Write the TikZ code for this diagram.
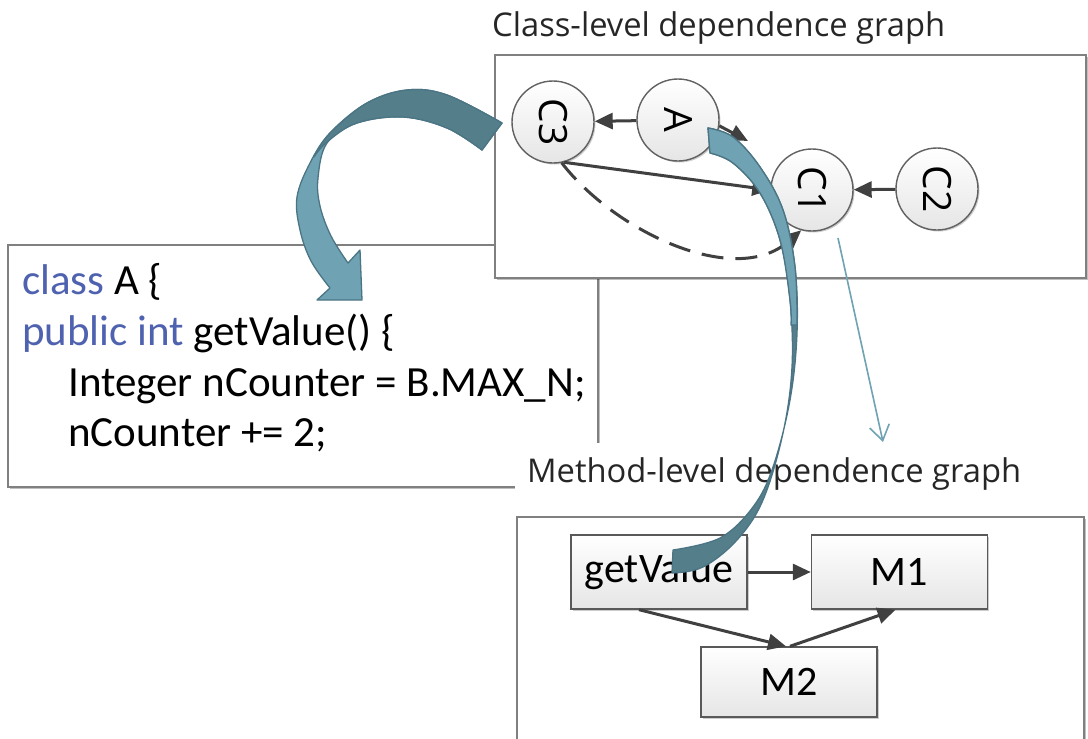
\documentclass[tikz,border=0pt]{standalone}
\usepackage{fontspec}
\setmainfont{Carlito}
\newfontfamily\titlefont{Open Sans}
\usetikzlibrary{arrows.meta,shadows,calc}

\definecolor{edgegray}{HTML}{404040}
\definecolor{framegray}{HTML}{808080}
\definecolor{kwblue}{RGB}{79,98,176}
\definecolor{bandlight}{HTML}{6FA2B2}
\definecolor{banddark}{HTML}{557E8B}
\definecolor{bandline}{HTML}{4B7584}

\tikzset{
  frame/.style={draw=framegray, line width=1.5pt, fill=white, rectangle, inner sep=0pt,
    drop shadow={shadow xshift=2pt, shadow yshift=-2pt, fill=black, opacity=.25}},
  heading/.style={anchor=base west, inner sep=0pt, text=black!85,
    font=\titlefont\fontsize{32.7}{38}\selectfont},
  codeline/.style={anchor=base west, inner sep=0pt, font=\fontsize{43}{50}\selectfont},
  clsnode/.style={circle, draw=black!62, line width=1.4pt, minimum size=82pt, inner sep=0pt,
    top color=white, bottom color=black!10,
    font=\titlefont\fontsize{39}{40}\selectfont,
    drop shadow={shadow xshift=1.5pt, shadow yshift=-1.5pt, fill=black, opacity=.2}},
  methnode/.style={rectangle, draw=black!65, line width=1.4pt, inner sep=0pt,
    minimum width=176pt, minimum height=74pt,
    top color=white, bottom color=black!10,
    font=\fontsize{42}{44}\selectfont,
    drop shadow={shadow xshift=1.5pt, shadow yshift=-1.5pt, fill=black, opacity=.2}},
  dep/.style={draw=edgegray, line width=3pt, -{Triangle[length=18pt,width=16pt]}},
  band/.style={draw=bandline, line width=1.3pt, line join=round},
}

\begin{document}
\begin{tikzpicture}[x=1pt,y=-1pt]
\useasboundingbox (0,0) rectangle (1088,739);

% ---- source code ----
\node[frame, minimum width=590pt, minimum height=242pt] (codebox) at (303,366) {};
\node[codeline] (l1) at (22,294) {\textcolor{kwblue}{class} A \{};
\node[codeline] (l2) at (22,345) {\textcolor{kwblue}{public int} getValue() \{};
\node[codeline] (l3) at (68,396) {Integer nCounter = B.MAX\_N;};
\node[codeline] (l4) at (68,446) {nCounter += 2;};

% ---- class-level graph ----
\node[heading] (clstitle) at (492,36) {Class-level dependence graph};
\node[frame, minimum width=591pt, minimum height=223pt] (clsbox) at (790.5,166.5) {};

\node[clsnode] (C3) at (553,122) {\rotatebox{-90}{C3}};
\node[clsnode] (A)  at (678,120) {\rotatebox{-90}{A}};
\node[clsnode] (C1) at (812,190) {\rotatebox{-90}{C1}};
\node[clsnode] (C2) at (937,189) {\rotatebox{-90}{C2}};

\coordinate (AC1) at (748,141);
\draw[dep] (A) -- (C3);
\draw[dep] (A.-8) -- (AC1);
\draw[dep] (C3.-75) -- (C1.west);
\draw[dep, dash pattern=on 22pt off 12pt] (C3.-78) .. controls (615,232) and (735,288) .. (C1.-105);
\draw[dep] (C2) -- (C1);

% ---- method-level graph ----
\fill[white] (515,443) rectangle (1088,505);
\node[heading] (methtitle) at (527,482) {Method-level dependence graph};
\node[frame, minimum width=567pt, minimum height=243pt] (methbox) at (800.5,638.5) {};

\node[methnode] (gv) at (659,572) {getValue};
\node[methnode] (m1) at (899.5,572) {M1};
\node[methnode, minimum height=70pt] (m2) at (789,682) {M2};

\draw[dep] (gv) -- (m1);
\draw[dep] ($(gv.south)+(-20,0)$) -- ($(m2.north)+(-3,0)$);
\draw[dep] ($(m2.north)+(1,0)$) -- ($(m1.south)+(-4,0)$);

% ---- refinement pointer from C1 ----
\coordinate (zoomfrom) at (838,238);
\coordinate (zoomto) at (883,442);
\draw[bandlight, line width=1.6pt, -{Straight Barb[length=15pt,width=20pt]}] (zoomfrom) -- (zoomto);

% ---- curved arrow: class graph to code ----
\filldraw[band, fill=bandlight]
  plot[smooth, tension=0.6] coordinates {(502,123) (447,95) (407,90) (367,103) (330,133) (310,163) (297,197) (300,230) (311,261) (330,288)}
  -- (317,300) -- (362,300) -- (360,250) -- (348,263)
  -- plot[smooth, tension=0.6] coordinates {(348,263) (331,236) (320,206) (318,178) (327,143) (357,123) (403,117) (447,128) (482,150)}
  -- cycle;
\filldraw[band, fill=banddark]
  plot[smooth, tension=0.6] coordinates {(502,123) (447,95) (407,90) (367,103) (330,133) (314,157)}
  -- plot[smooth, tension=0.6] coordinates {(314,157) (327,142) (357,123) (403,117) (447,128) (482,150)}
  -- cycle;

% ---- ribbon: class A to method getValue ----
\filldraw[band, fill=banddark]
  plot[smooth, tension=0.6] coordinates {(708,128) (733,137) (760,167) (783,210) (795,267) (797,333) (790,400) (773,467) (753,507) (720,538) (673,550)}
  -- (672,573)
  -- plot[smooth, tension=0.6] coordinates {(672,573) (703,567) (737,540) (763,500) (783,433) (792,367) (790,300) (780,240) (760,193) (733,163) (710,153)}
  -- cycle;
\filldraw[band, fill=bandlight]
  plot[smooth, tension=0.6] coordinates {(708,128) (733,137) (760,167) (783,210) (795,267) (797,325)}
  -- plot[smooth, tension=0.6] coordinates {(791,325) (790,300) (780,240) (760,193) (733,163) (710,153)}
  -- cycle;
\end{tikzpicture}
\end{document}
